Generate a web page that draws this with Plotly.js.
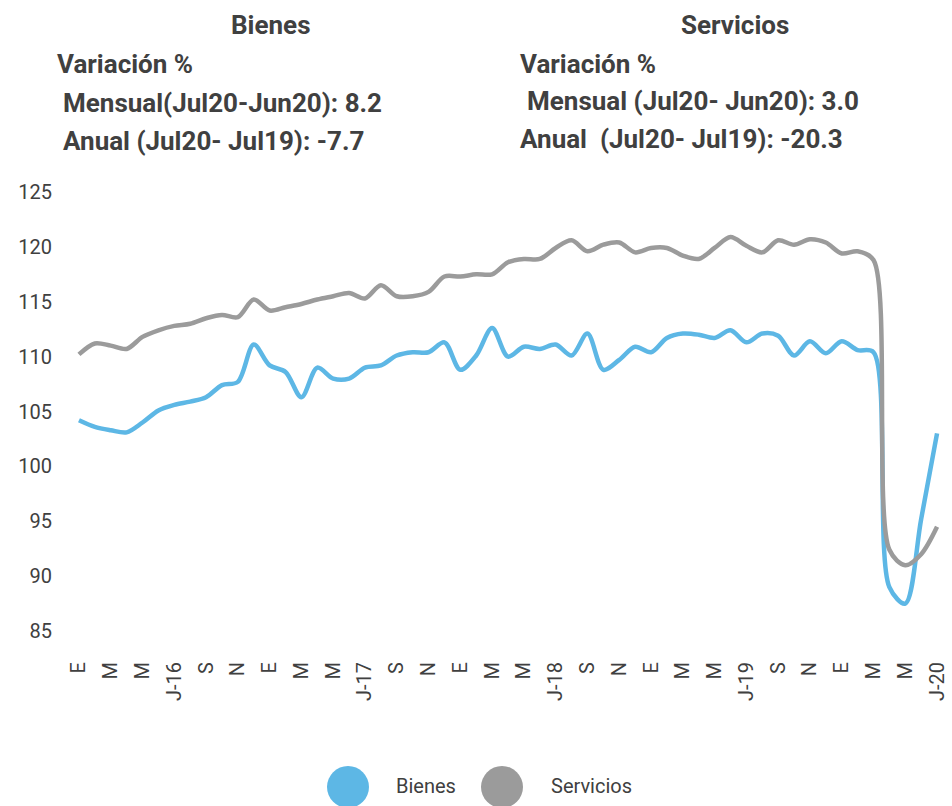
<!DOCTYPE html>
<html>
<head>
<meta charset="utf-8">
<script src="https://cdn.plot.ly/plotly-3.0.1.min.js"></script>
<style>
  html, body { margin: 0; padding: 0; background: #ffffff; }
  #chart { width: 952px; height: 806px; }
</style>
</head>
<body>
<div id="chart"></div>
<script>
// Monthly categories, Jan 2016 .. Jul 2020
var months = [
  "Ene16","Feb16","Mar16","Abr16","May16","Jun16","Jul16","Ago16","Sep16","Oct16","Nov16","Dic16",
  "Ene17","Feb17","Mar17","Abr17","May17","Jun17","Jul17","Ago17","Sep17","Oct17","Nov17","Dic17",
  "Ene18","Feb18","Mar18","Abr18","May18","Jun18","Jul18","Ago18","Sep18","Oct18","Nov18","Dic18",
  "Ene19","Feb19","Mar19","Abr19","May19","Jun19","Jul19","Ago19","Sep19","Oct19","Nov19","Dic19",
  "Ene20","Feb20","Mar20","Abr20","May20","Jun20","Jul20"
];

var bienes = [
  104.2,103.6,103.3,103.1,104.0,105.1,105.6,105.9,106.3,107.4,107.7,111.1,
  109.2,108.6,106.3,109.0,108.0,108.0,109.0,109.2,110.1,110.4,110.4,111.3,
  108.8,110.1,112.6,110.0,110.9,110.7,111.1,110.1,112.1,108.8,109.7,110.9,
  110.4,111.7,112.1,112.0,111.7,112.4,111.3,112.1,111.9,110.1,111.4,110.3,
  111.4,110.6,110.4,89.0,87.5,95.2,103.0
];

var servicios = [
  110.2,111.2,111.0,110.7,111.8,112.4,112.8,113.0,113.5,113.8,113.6,115.2,
  114.2,114.5,114.8,115.2,115.5,115.8,115.3,116.5,115.5,115.5,115.9,117.3,
  117.3,117.5,117.5,118.6,118.9,118.9,119.9,120.6,119.6,120.2,120.4,119.5,
  119.9,119.9,119.2,118.9,119.9,120.9,120.1,119.5,120.6,120.2,120.7,120.4,
  119.4,119.6,118.8,92.4,91.0,92.0,94.5
];

var tickLabels = ["E","M","M","J-16","S","N","E","M","M","J-17","S","N",
  "E","M","M","J-18","S","N","E","M","M","J-19","S","N","E","M","M","J-20"];

var seriesNames = ["Bienes","Servicios"];
var colors = ["#5DB7E5","#9B9B9B"];

var tickVals = months.filter(function (m, i) { return i % 2 === 0; });

var txt = "#404040";
var fontFam = "Roboto, 'Open Sans', Arial, sans-serif";

var traces = [
  {x: months, y: bienes, name: seriesNames[0], type: "scatter", mode: "lines",
   line: {color: colors[0], width: 4.5, shape: "spline", smoothing: 0.9}, showlegend: false, hoverinfo: "x+y"},
  {x: months, y: servicios, name: seriesNames[1], type: "scatter", mode: "lines",
   line: {color: colors[1], width: 4.5, shape: "spline", smoothing: 0.9}, showlegend: false, hoverinfo: "x+y"}
];

// geometry helpers for paper coordinates
var W = 952, H = 806, L = 71, R = 7, T = 192, B = 175;
var pw = W - L - R, ph = H - T - B;
function px(x) { return (x - L) / pw; }
function py(y) { return (H - B - y) / ph; }

function ann(text, x, y, anchor, size, bold) {
  return {text: text, xref: "paper", yref: "paper", x: px(x), y: py(y),
    xanchor: anchor, yanchor: "middle", showarrow: false, borderpad: 0,
    font: {family: fontFam, size: size, color: txt, weight: bold ? 700 : 400}};
}

var annotations = [
  ann("Bienes", 271, 25, "center", 26, true),
  ann("Servicios", 735, 25, "center", 26, true),
  ann("Variación %", 56, 64, "left", 26, true),
  ann("Mensual(Jul20-Jun20): 8.2", 62, 103, "left", 26, true),
  ann("Anual (Jul20- Jul19): -7.7", 62, 141, "left", 26, true),
  ann("Variación %", 519, 64, "left", 26, true),
  ann("Mensual (Jul20- Jun20): 3.0", 526, 101, "left", 26, true),
  ann("Anual\u00a0 (Jul20- Jul19): -20.3", 519, 139, "left", 26, true),
  ann(seriesNames[0], 395, 786, "left", 20, false),
  ann(seriesNames[1], 550, 786, "left", 20, false)
];

var shapes = [
  {type: "circle", xref: "paper", yref: "paper", xsizemode: "pixel", ysizemode: "pixel",
   xanchor: px(348), yanchor: py(787), x0: -21, x1: 21, y0: -21, y1: 21,
   fillcolor: colors[0], line: {width: 0}},
  {type: "circle", xref: "paper", yref: "paper", xsizemode: "pixel", ysizemode: "pixel",
   xanchor: px(502), yanchor: py(787), x0: -21, x1: 21, y0: -21, y1: 21,
   fillcolor: colors[1], line: {width: 0}}
];

var layout = {
  width: W, height: H,
  margin: {l: L, r: R, t: T, b: B, pad: 0},
  paper_bgcolor: "#ffffff", plot_bgcolor: "#ffffff",
  font: {family: fontFam, color: txt, size: 20},
  showlegend: false,
  xaxis: {
    type: "category", categoryorder: "array", categoryarray: months,
    range: [-0.5, months.length - 0.5],
    tickmode: "array", tickvals: tickVals, ticktext: tickLabels,
    tickangle: -90, showgrid: false, zeroline: false, showline: false,
    ticks: "outside", ticklen: 22, tickcolor: "rgba(0,0,0,0)",
    tickfont: {family: fontFam, size: 20, color: txt}, fixedrange: true
  },
  yaxis: {
    range: [85, 125], dtick: 5, tick0: 85,
    showgrid: false, zeroline: false, showline: false,
    ticks: "outside", ticklen: 14, tickcolor: "rgba(0,0,0,0)",
    tickfont: {family: fontFam, size: 20, color: txt}, fixedrange: true
  },
  annotations: annotations,
  shapes: shapes
};

Plotly.newPlot("chart", traces, layout, {displayModeBar: false, staticPlot: true});
</script>
</body>
</html>
